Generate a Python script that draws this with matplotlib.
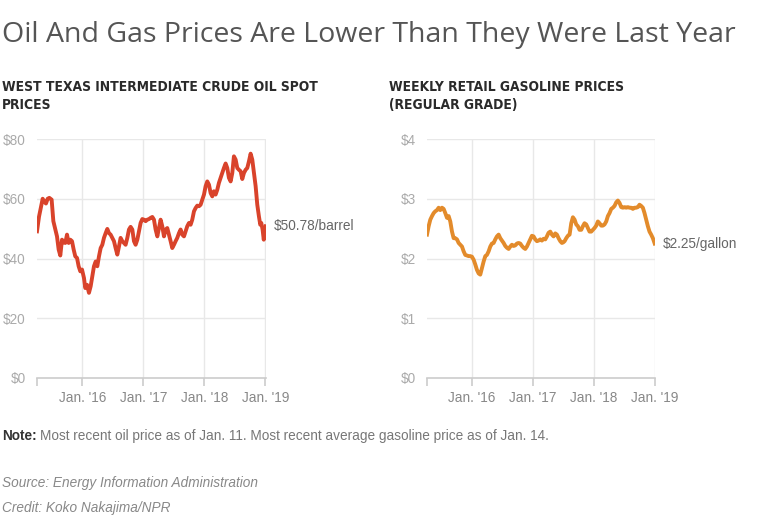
import matplotlib
matplotlib.use("Agg")
import matplotlib.pyplot as plt

# WTI crude oil spot price (decimal year, $/barrel)
oil_t = [2015.257, 2015.290, 2015.328, 2015.350, 2015.377, 2015.404, 2015.432, 2015.459,
         2015.497, 2015.525, 2015.557, 2015.585, 2015.612, 2015.639, 2015.667, 2015.694,
         2015.721, 2015.749, 2015.776, 2015.803, 2015.831, 2015.858, 2015.885, 2015.913,
         2015.940, 2015.967, 2015.995, 2016.027, 2016.049, 2016.077, 2016.109, 2016.137,
         2016.164, 2016.191, 2016.219, 2016.246, 2016.273, 2016.301, 2016.328, 2016.355,
         2016.383, 2016.410, 2016.437, 2016.464, 2016.492, 2016.519, 2016.546, 2016.574,
         2016.601, 2016.628, 2016.656, 2016.683, 2016.710, 2016.738, 2016.765, 2016.792,
         2016.820, 2016.847, 2016.874, 2016.902, 2016.929, 2016.956, 2016.984, 2017.011,
         2017.038, 2017.066, 2017.093, 2017.120, 2017.148, 2017.175, 2017.202, 2017.230,
         2017.257, 2017.284, 2017.311, 2017.339, 2017.366, 2017.393, 2017.421, 2017.448,
         2017.475, 2017.503, 2017.530, 2017.557, 2017.585, 2017.612, 2017.639, 2017.667,
         2017.694, 2017.721, 2017.749, 2017.776, 2017.803, 2017.831, 2017.858, 2017.885,
         2017.913, 2017.940, 2017.967, 2017.995, 2018.022, 2018.049, 2018.077, 2018.104,
         2018.131, 2018.158, 2018.186, 2018.213, 2018.240, 2018.268, 2018.295, 2018.322,
         2018.350, 2018.377, 2018.404, 2018.432, 2018.459, 2018.486, 2018.514, 2018.541,
         2018.568, 2018.596, 2018.623, 2018.650, 2018.678, 2018.705, 2018.732, 2018.760,
         2018.787, 2018.814, 2018.842, 2018.869, 2018.896, 2018.918, 2018.935, 2018.956,
         2018.975, 2018.992, 2019.008]
oil_price = [49.1, 54.0, 57.7, 60.0, 59.0, 58.4, 60.0, 60.3, 59.7, 52.5, 49.7, 47.4,
             43.0, 41.0, 46.3, 45.4, 45.2, 48.0, 45.2, 46.3, 45.8, 43.0, 40.7, 40.2,
             37.4, 35.7, 36.3, 33.5, 30.1, 31.2, 28.5, 30.7, 34.0, 37.4, 39.0, 37.4,
             40.7, 43.5, 44.6, 46.9, 48.5, 49.9, 48.5, 48.0, 46.9, 45.8, 43.5, 41.3,
             44.0, 46.9, 45.8, 45.2, 44.6, 46.9, 49.7, 50.6, 49.7, 45.8, 44.6, 46.3,
             49.1, 51.9, 53.2, 53.0, 52.5, 53.0, 53.2, 53.6, 53.9, 53.0, 49.7, 47.4,
             50.2, 53.0, 50.8, 47.4, 49.7, 50.2, 48.0, 45.8, 43.5, 44.6, 45.8, 46.9,
             48.5, 49.7, 48.0, 47.4, 49.1, 50.8, 51.9, 51.3, 53.0, 55.8, 56.9, 57.7,
             57.5, 58.0, 59.7, 61.4, 64.2, 65.8, 64.7, 61.9, 60.8, 62.5, 61.4, 63.0,
             65.3, 67.0, 68.6, 70.3, 71.8, 70.3, 67.0, 65.8, 68.6, 74.2, 73.1, 70.3,
             69.7, 69.2, 66.6, 68.6, 69.7, 70.3, 72.5, 75.1, 73.1, 68.6, 64.2, 58.0,
             54.1, 51.3, 51.9, 49.7, 46.3, 48.5, 50.78]

# Weekly retail gasoline price, regular grade (decimal year, $/gallon)
gas_t = [2015.268, 2015.295, 2015.322, 2015.350, 2015.377, 2015.404, 2015.432, 2015.459,
         2015.486, 2015.514, 2015.541, 2015.568, 2015.596, 2015.623, 2015.650, 2015.678,
         2015.705, 2015.732, 2015.760, 2015.787, 2015.814, 2015.842, 2015.869, 2015.896,
         2015.923, 2015.951, 2015.978, 2016.005, 2016.033, 2016.060, 2016.087, 2016.115,
         2016.142, 2016.169, 2016.197, 2016.224, 2016.251, 2016.279, 2016.306, 2016.333,
         2016.361, 2016.388, 2016.415, 2016.443, 2016.470, 2016.497, 2016.525, 2016.552,
         2016.579, 2016.607, 2016.634, 2016.661, 2016.689, 2016.716, 2016.743, 2016.770,
         2016.798, 2016.825, 2016.852, 2016.880, 2016.907, 2016.934, 2016.962, 2016.989,
         2017.016, 2017.044, 2017.071, 2017.098, 2017.126, 2017.153, 2017.180, 2017.208,
         2017.235, 2017.262, 2017.290, 2017.317, 2017.344, 2017.372, 2017.399, 2017.426,
         2017.454, 2017.481, 2017.503, 2017.525, 2017.552, 2017.579, 2017.607, 2017.634,
         2017.661, 2017.689, 2017.716, 2017.743, 2017.770, 2017.798, 2017.825, 2017.852,
         2017.880, 2017.907, 2017.934, 2017.962, 2017.989, 2018.016, 2018.044, 2018.071,
         2018.098, 2018.126, 2018.153, 2018.180, 2018.208, 2018.235, 2018.262, 2018.290,
         2018.317, 2018.344, 2018.372, 2018.399, 2018.426, 2018.454, 2018.481, 2018.508,
         2018.536, 2018.563, 2018.590, 2018.617, 2018.645, 2018.672, 2018.699, 2018.727,
         2018.754, 2018.781, 2018.809, 2018.836, 2018.863, 2018.891, 2018.918, 2018.945,
         2018.973, 2019.003]
gas_price = [2.40, 2.54, 2.65, 2.71, 2.76, 2.79, 2.81, 2.85, 2.81, 2.85, 2.83, 2.76,
             2.68, 2.71, 2.62, 2.45, 2.34, 2.34, 2.32, 2.26, 2.23, 2.20, 2.12, 2.06,
             2.05, 2.04, 2.04, 2.03, 1.98, 1.90, 1.81, 1.75, 1.73, 1.84, 1.95, 2.04,
             2.06, 2.12, 2.20, 2.25, 2.26, 2.32, 2.37, 2.40, 2.34, 2.30, 2.26, 2.21,
             2.18, 2.16, 2.20, 2.23, 2.21, 2.22, 2.25, 2.26, 2.25, 2.21, 2.18, 2.16,
             2.20, 2.26, 2.32, 2.38, 2.37, 2.32, 2.29, 2.30, 2.32, 2.30, 2.33, 2.32,
             2.37, 2.43, 2.45, 2.40, 2.37, 2.42, 2.40, 2.34, 2.29, 2.26, 2.27, 2.29,
             2.34, 2.38, 2.40, 2.59, 2.69, 2.65, 2.57, 2.54, 2.48, 2.48, 2.54, 2.59,
             2.57, 2.51, 2.45, 2.45, 2.48, 2.51, 2.55, 2.62, 2.59, 2.55, 2.55, 2.57,
             2.62, 2.71, 2.76, 2.83, 2.85, 2.88, 2.94, 2.97, 2.93, 2.86, 2.85, 2.86,
             2.85, 2.86, 2.85, 2.85, 2.83, 2.85, 2.85, 2.86, 2.90, 2.88, 2.85, 2.76,
             2.65, 2.54, 2.45, 2.40, 2.34, 2.25]

year_ticks = [2016, 2017, 2018, 2019]
year_labels = ["Jan. '16", "Jan. '17", "Jan. '18", "Jan. '19"]

plt.rcParams['font.family'] = ['Liberation Sans', 'DejaVu Sans']

W, H = 759, 525
fig = plt.figure(figsize=(W / 100, H / 100), dpi=100)


def box(x0, y0, x1, y1):
    # pixel box (top-left origin) -> figure fraction rect
    return [x0 / W, 1 - y1 / H, (x1 - x0) / W, (y1 - y0) / H]


def style_panel(ax, start, end, ymax, yticks, ylabels):
    ax.set_xlim(start, end)
    ax.set_ylim(0, ymax)
    for s in ['top', 'right', 'left']:
        ax.spines[s].set_visible(False)
    ax.spines['bottom'].set_color('#cccccc')
    ax.spines['bottom'].set_linewidth(1.2)
    ax.set_xticks([start] + year_ticks)
    ax.set_xticklabels([''] + year_labels)
    ax.tick_params(axis='x', colors='#cccccc', length=6, width=1.2,
                   labelcolor='#888888', labelsize=9.8, pad=3)
    ax.set_yticks(yticks)
    ax.set_yticklabels(ylabels)
    ax.tick_params(axis='y', length=0, labelcolor='#aaaaaa', labelsize=9.8, pad=8)
    for y in yticks[1:]:
        ax.axhline(y, color='#e8e8e8', lw=1, zorder=0)
    for x in year_ticks:
        ax.axvline(x, color='#e8e8e8', lw=1, zorder=0)


ax1 = fig.add_axes(box(37, 139, 266, 378))
ax1.plot(oil_t, oil_price, color='#d9432b', lw=2.8, solid_joinstyle='round', zorder=3)
style_panel(ax1, 2015.257, 2019.012, 80, [0, 20, 40, 60, 80],
            ['$0', '$20', '$40', '$60', '$80'])
ax1.annotate('$%.2f/barrel' % oil_price[-1], xy=(oil_t[-1], oil_price[-1]),
             xytext=(6, 0), textcoords='offset points', va='center', ha='left',
             fontsize=9.8, color='#666666')

ax2 = fig.add_axes(box(427, 139, 655, 378))
ax2.plot(gas_t, gas_price, color='#e38b2b', lw=2.8, solid_joinstyle='round', zorder=3)
style_panel(ax2, 2015.268, 2019.008, 4, [0, 1, 2, 3, 4],
            ['$0', '$1', '$2', '$3', '$4'])
ax2.annotate('$%.2f/gallon' % gas_price[-1], xy=(gas_t[-1], gas_price[-1]),
             xytext=(6, 0), textcoords='offset points', va='center', ha='left',
             fontsize=9.8, color='#666666')

# Titles
fig.text(2 / W, 1 - 35 / H, 'Oil And Gas Prices Are Lower Than They Were Last Year',
         fontsize=20.5, color='#555555', va='center', ha='left',
         family=['Open Sans', 'DejaVu Sans'])
fig.text(2 / W, 1 - 96 / H, 'WEST TEXAS INTERMEDIATE CRUDE OIL SPOT\nPRICES',
         fontsize=9.9, color='#2a2a2a', va='center', ha='left', fontweight='bold',
         family='DejaVu Sans', fontstretch='condensed', linespacing=1.3)
fig.text(389 / W, 1 - 96 / H, 'WEEKLY RETAIL GASOLINE PRICES\n(REGULAR GRADE)',
         fontsize=9.9, color='#2a2a2a', va='center', ha='left', fontweight='bold',
         family='DejaVu Sans', fontstretch='condensed', linespacing=1.3)

# Footer
note = fig.text(2 / W, 1 - 436 / H, 'Note:', fontsize=9.8, color='#333333',
                fontweight='bold', va='center', ha='left')
fig.canvas.draw()
bb = note.get_window_extent()
fig.text((bb.x1 + 3) / W, 1 - 436 / H,
         'Most recent oil price as of Jan. 11. Most recent average gasoline price as of Jan. 14.',
         fontsize=9.8, color='#777777', va='center', ha='left')
fig.text(2 / W, 1 - 483 / H, 'Source: Energy Information Administration',
         fontsize=9.8, color='#888888', style='italic', va='center', ha='left')
fig.text(2 / W, 1 - 508 / H, 'Credit: Koko Nakajima/NPR',
         fontsize=9.8, color='#888888', style='italic', va='center', ha='left')

fig.savefig('out.png', dpi=100)
